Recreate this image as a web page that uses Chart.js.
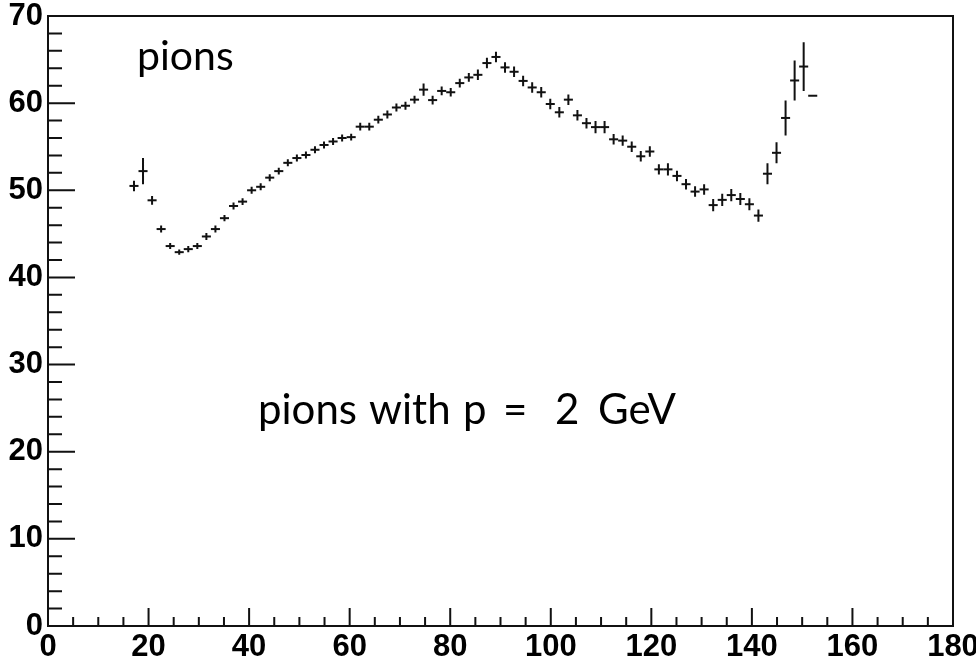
<!DOCTYPE html>
<html>
<head>
<meta charset="utf-8">
<title>pions</title>
<script src="https://cdn.jsdelivr.net/npm/chart.js"></script>
<style>
  html, body { margin: 0; padding: 0; background: #fff; }
  #wrap { width: 976px; height: 660px; }
</style>
</head>
<body>
<div id="wrap"><canvas id="histo" width="976" height="660"></canvas></div>
<script>
// histogram bins (centres), contents and errors
const binWidth = 1.8;
const binCenters = [
  17.1, 18.9, 20.7, 22.5, 24.3, 26.1, 27.9, 29.7, 31.5, 33.3,
  35.1, 36.9, 38.7, 40.5, 42.3, 44.1, 45.9, 47.7, 49.5, 51.3,
  53.1, 54.9, 56.7, 58.5, 60.3, 62.1, 63.9, 65.7, 67.5, 69.3,
  71.1, 72.9, 74.7, 76.5, 78.3, 80.1, 81.9, 83.7, 85.5, 87.3,
  89.1, 90.9, 92.7, 94.5, 96.3, 98.1, 99.9, 101.7, 103.5, 105.3,
  107.1, 108.9, 110.7, 112.5, 114.3, 116.1, 117.9, 119.7, 121.5, 123.3,
  125.1, 126.9, 128.7, 130.5, 132.3, 134.1, 135.9, 137.7, 139.5, 141.3,
  143.1, 144.9, 146.7, 148.5, 150.3, 152.1
];
const counts = [
  50.5, 52.2, 48.85, 45.55, 43.6, 42.9, 43.25, 43.6, 44.7, 45.55,
  46.8, 48.2, 48.7, 50.0, 50.4, 51.45, 52.2, 53.15, 53.7, 54.05,
  54.65, 55.2, 55.6, 56.0, 56.1, 57.3, 57.3, 58.1, 58.7, 59.5,
  59.7, 60.4, 61.55, 60.35, 61.4, 61.25, 62.3, 62.95, 63.25, 64.6,
  65.3, 64.1, 63.6, 62.55, 61.8, 61.25, 59.9, 58.95, 60.4, 58.6,
  57.7, 57.25, 57.25, 55.85, 55.7, 55.0, 53.9, 54.45, 52.4, 52.4,
  51.65, 50.7, 49.85, 50.1, 48.3, 48.9, 49.45, 49.0, 48.4, 47.1,
  51.9, 54.3, 58.3, 62.6, 64.2, 60.85
];
const errors = [
  0.6, 1.5, 0.5, 0.4, 0.35, 0.3, 0.35, 0.35, 0.4, 0.4,
  0.35, 0.4, 0.4, 0.4, 0.4, 0.4, 0.4, 0.4, 0.4, 0.4,
  0.4, 0.4, 0.4, 0.4, 0.4, 0.45, 0.45, 0.45, 0.45, 0.45,
  0.45, 0.45, 0.7, 0.5, 0.5, 0.5, 0.5, 0.5, 0.6, 0.6,
  0.6, 0.6, 0.6, 0.6, 0.6, 0.6, 0.6, 0.6, 0.6, 0.6,
  0.6, 0.7, 0.7, 0.6, 0.6, 0.6, 0.6, 0.6, 0.6, 0.7,
  0.6, 0.6, 0.6, 0.6, 0.7, 0.7, 0.7, 0.7, 0.7, 0.7,
  1.2, 1.2, 2.0, 2.3, 2.8, 0
];

const xTickValues = [0, 20, 40, 60, 80, 100, 120, 140, 160, 180];
const yTickValues = [0, 10, 20, 30, 40, 50, 60, 70];

const INK = '#111';
const labelFont = { family: 'Liberation Sans', size: 31, weight: 'bold' };

// caption words and where each one starts
const captionWords = ['pions', 'with', 'p', '=', '2', 'GeV'];
const captionStarts = [258, 369, 463, 503, 555, 598];

// vertical error bars, the frame, inside tick marks and the two captions
const rootStyle = {
  id: 'rootStyle',
  afterDatasetsDraw(chart) {
    const { ctx, chartArea: a, scales: { x, y } } = chart;
    const meta = chart.getDatasetMeta(0);
    ctx.save();
    ctx.strokeStyle = INK;
    ctx.lineWidth = 2;

    // error bars
    ctx.beginPath();
    meta.data.forEach((pt, i) => {
      if (!errors[i]) return;
      ctx.moveTo(pt.x, y.getPixelForValue(counts[i] - errors[i]));
      ctx.lineTo(pt.x, y.getPixelForValue(counts[i] + errors[i]));
    });
    ctx.stroke();

    // frame
    ctx.strokeRect(a.left, a.top, a.right - a.left, a.bottom - a.top);

    // y ticks (major every 10, minor every 2)
    ctx.beginPath();
    for (let v = 0; v <= 70; v += 2) {
      const py = y.getPixelForValue(v);
      const len = v % 10 === 0 ? 27 : 14;
      ctx.moveTo(a.left, py);
      ctx.lineTo(a.left + len, py);
    }
    // x ticks (major every 20, minor every 5)
    for (let v = 0; v <= 180; v += 5) {
      const px = x.getPixelForValue(v);
      const len = v % 20 === 0 ? 18 : 9;
      ctx.moveTo(px, a.bottom);
      ctx.lineTo(px, a.bottom - len);
    }
    ctx.stroke();

    // captions
    ctx.fillStyle = '#000';
    ctx.textBaseline = 'alphabetic';
    ctx.font = '41px Lato';
    ctx.fillText('pions', 137, 70);
    ctx.font = '42px Lato';
    captionWords.forEach((w, i) => ctx.fillText(w, captionStarts[i], 424));
    ctx.restore();
  }
};

// labels may hang past the frame, so drop the padding Chart.js adds for them
function noLabelPadding(s) {
  s.paddingLeft = 0;
  s.paddingRight = 0;
  s.paddingTop = 0;
  s.paddingBottom = 0;
}

new Chart(document.getElementById('histo'), {
  type: 'scatter',
  data: {
    datasets: [{
      label: 'pions',
      data: binCenters.map((c, i) => ({ x: c, y: counts[i] })),
      pointStyle: 'line',
      pointRadius: binWidth / 2 * 5.03,
      pointHoverRadius: 4.5,
      borderColor: INK,
      backgroundColor: INK,
      borderWidth: 2
    }]
  },
  plugins: [rootStyle],
  options: {
    responsive: false,
    animation: false,
    devicePixelRatio: 1,
    layout: { padding: { top: 16, right: 23, bottom: 0, left: 0 } },
    plugins: { legend: { display: false }, tooltip: { enabled: false } },
    scales: {
      x: {
        type: 'linear', min: 0, max: 180,
        afterBuildTicks: s => { s.ticks = xTickValues.map(v => ({ value: v })); },
        afterFit: s => { s.height = 34; noLabelPadding(s); },
        grid: { display: false, drawTicks: false },
        border: { display: false },
        ticks: { color: '#000', font: labelFont, padding: 3, maxRotation: 0, autoSkip: false }
      },
      y: {
        type: 'linear', min: 0, max: 70,
        afterBuildTicks: s => { s.ticks = yTickValues.map(v => ({ value: v })); },
        afterFit: s => { s.width = 48; noLabelPadding(s); },
        grid: { display: false, drawTicks: false },
        border: { display: false },
        ticks: { color: '#000', font: labelFont, padding: 5, autoSkip: false }
      }
    }
  }
});
</script>
</body>
</html>
